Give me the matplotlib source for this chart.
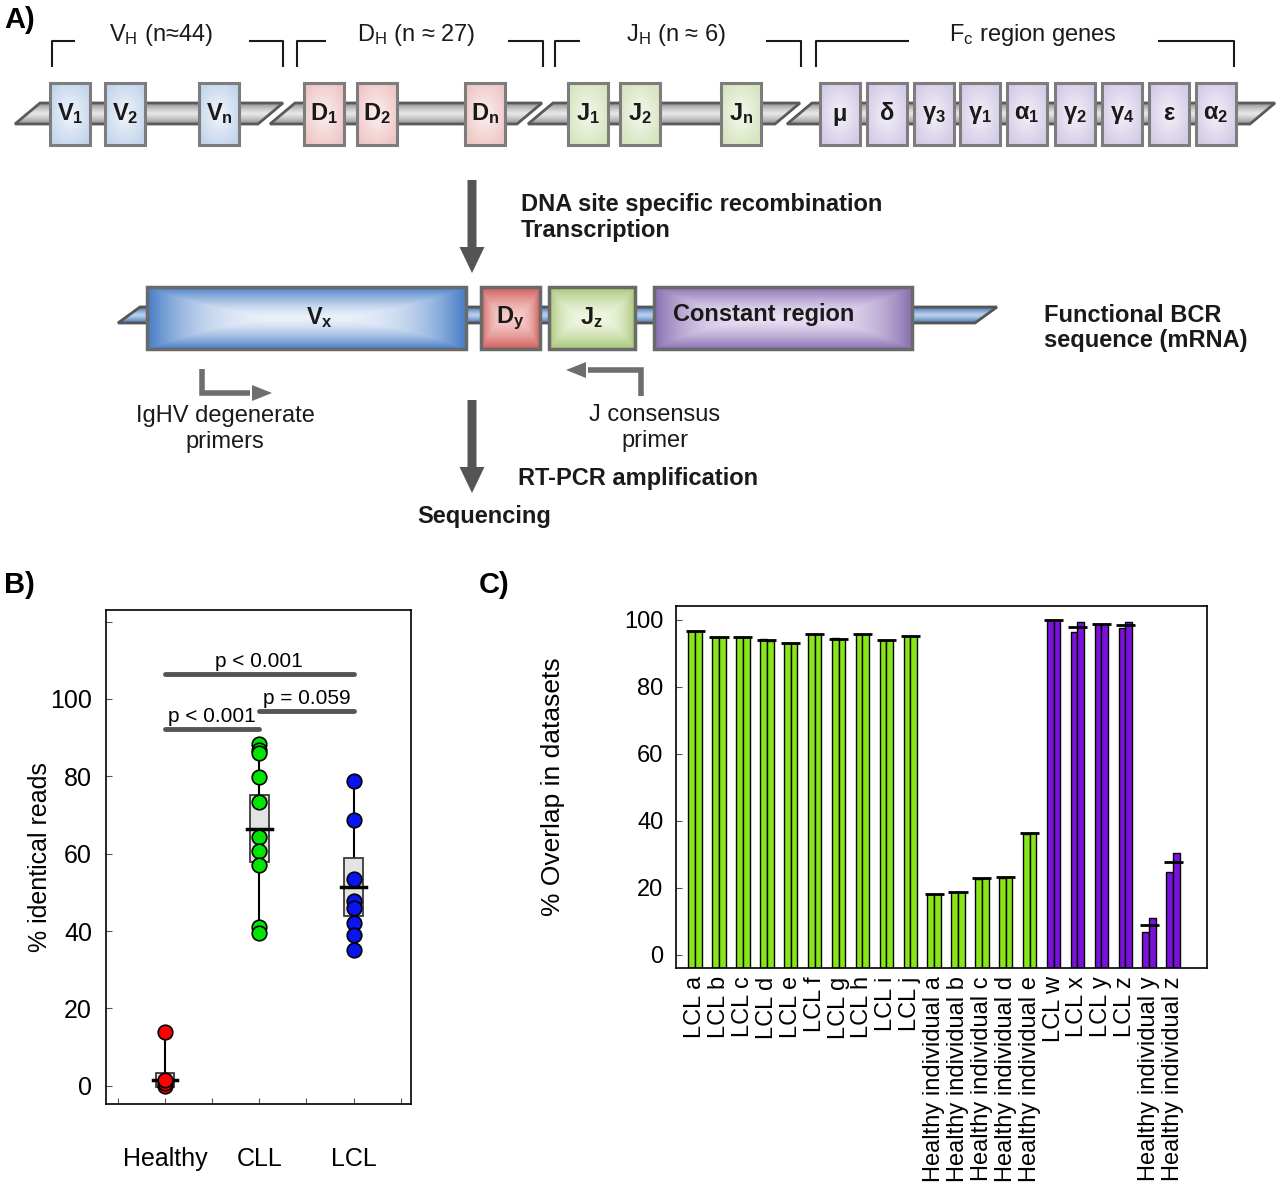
import numpy as np
import matplotlib
matplotlib.use("Agg")
import matplotlib.pyplot as plt
from matplotlib.patches import Rectangle, Polygon, FancyArrow
from matplotlib.colors import LinearSegmentedColormap

plt.rcParams['font.family'] = ['Liberation Sans', 'DejaVu Sans']
plt.rcParams['mathtext.fontset'] = 'custom'
plt.rcParams['mathtext.rm'] = 'Liberation Sans'
plt.rcParams['mathtext.bf'] = 'Liberation Sans:bold'
plt.rcParams['mathtext.it'] = 'Liberation Sans:italic'

# ---- panel B data: % identical reads ----
groups = ['Healthy', 'CLL', 'LCL']
healthy_reads = [0.0, 0.6, 1.4, 14.0]
cll_reads = [88.4, 86.9, 86.0, 79.8, 73.3, 64.3, 60.8, 57.2, 41.0, 39.5]
lcl_reads = [78.7, 68.6, 53.5, 47.7, 46.0, 42.1, 38.9, 35.2]
box_median = [1.4, 66.5, 51.3]
box_q1 = [-0.4, 57.8, 43.8]
box_q3 = [3.3, 75.3, 58.9]
point_colors = ['#ff0000', '#00e600', '#0a14f0']
p_pairs = [(1, 3), (1, 2), (2, 3)]
p_heights = [106.5, 92.3, 96.8]
p_labels = ['p < 0.001', 'p < 0.001', 'p = 0.059']

# ---- panel C data: % overlap in datasets (two replicates each) ----
samples = ['LCL a', 'LCL b', 'LCL c', 'LCL d', 'LCL e', 'LCL f', 'LCL g',
           'LCL h', 'LCL i', 'LCL j', 'Healthy individual a',
           'Healthy individual b', 'Healthy individual c',
           'Healthy individual d', 'Healthy individual e', 'LCL w', 'LCL x',
           'LCL y', 'LCL z', 'Healthy individual y', 'Healthy individual z']
overlap_rep1 = [96.5, 94.8, 94.7, 94.2, 93.2, 95.8, 94.4, 95.7, 93.8, 95.1,
                18.1, 18.7, 22.6, 22.9, 36.1, 100.0, 96.3, 98.8, 97.5, 6.8, 24.8]
overlap_rep2 = [96.5, 94.8, 94.7, 93.6, 93.2, 95.8, 94.2, 95.7, 93.8, 95.1,
                18.1, 18.7, 23.0, 23.2, 36.4, 100.0, 99.2, 98.8, 99.2, 11.0, 30.3]
sample_group = ['green'] * 15 + ['purple'] * 6
group_color = {'green': '#86e61a', 'purple': '#7a12dc'}

# ---- panel A gene names ----
v_names = ['V$_\\mathbf{1}$', 'V$_\\mathbf{2}$', 'V$_\\mathbf{n}$']
d_names = ['D$_\\mathbf{1}$', 'D$_\\mathbf{2}$', 'D$_\\mathbf{n}$']
j_names = ['J$_\\mathbf{1}$', 'J$_\\mathbf{2}$', 'J$_\\mathbf{n}$']
c_names = ['μ', 'δ', 'γ$_\\mathbf{3}$', 'γ$_\\mathbf{1}$', 'α$_\\mathbf{1}$',
           'γ$_\\mathbf{2}$', 'γ$_\\mathbf{4}$', 'ε', 'α$_\\mathbf{2}$']

fig = plt.figure(figsize=(12.8, 11.91), dpi=100)

# ================= panel A (schematic, pixel coordinates) =================
ax = fig.add_axes([0, 0, 1, 1])
ax.axis('off')


def grad_fill(x0, y0, w, h, c_out, c_in, kind='pyramid', z=3, clip=None):
    u = np.linspace(-1, 1, 80)
    X, Y = np.meshgrid(u, u)
    if kind == 'pyramid':
        d = np.maximum(np.abs(X) ** 3, np.abs(Y) ** 1.5)
    elif kind == 'radial':
        d = np.clip(np.sqrt(X ** 2 + Y ** 2) / 1.2, 0, 1)
    else:
        d = np.abs(Y) ** 1.3
    cmap = LinearSegmentedColormap.from_list('g', [c_in, c_out])
    im = ax.imshow(d, cmap=cmap, extent=(x0, x0 + w, y0 + h, y0), zorder=z,
                   aspect='auto', interpolation='bilinear', vmin=0, vmax=1)
    if clip is not None:
        im.set_clip_path(clip)
    return im


def gene_box(x0, y0, w, h, c_out, c_in, kind, ec='#7d7d7d', lw=2.2):
    grad_fill(x0, y0, w, h, c_out, c_in, kind, z=4)
    ax.add_patch(Rectangle((x0, y0), w, h, fill=False, ec=ec, lw=lw, zorder=5))


def strand(xb0, xb1, y_top, y_bot, slant, c_out, c_in, ec):
    pts = [(xb0, y_bot), (xb0 + slant, y_top), (xb1 + slant, y_top), (xb1, y_bot)]
    poly = Polygon(pts, closed=True, fc='none', ec=ec, lw=2, zorder=2.1)
    ax.add_patch(poly)
    grad_fill(xb0, y_top, xb1 + slant - xb0, y_bot - y_top, c_out, c_in,
              kind='vert', z=2, clip=poly)


# germline strands
for xb0, xb1 in [(15, 258), (270, 517), (528, 775), (787, 1250)]:
    strand(xb0, xb1, 103, 124, 25, '#8e8e8e', '#e6e6e6', '#5a5a5a')

# germline gene boxes
box_sets = [
    (v_names, [50, 105, 199], '#c3d5ec', '#f1f5fb'),
    (d_names, [304, 357, 465], '#efc6c6', '#fcf0f0'),
    (j_names, [568, 620, 721], '#d6e4bf', '#f4f8ec'),
    (c_names, [820, 867, 914, 960, 1007, 1055, 1102, 1149, 1196], '#d4cbe6', '#f3f0f9'),
]
for names, xs, c_out, c_in in box_sets:
    for name, x0 in zip(names, xs):
        gene_box(x0, 83, 40, 62, c_out, c_in, 'radial')
        ax.text(x0 + 20, 114, name, ha='center', va='center', fontsize=17,
                fontweight='bold', color='#1a1a1a', zorder=6)

# brackets above the germline segments
brackets = [(52, 75, 249, 283, 'V$_\\mathrm{H}$ (n≈44)', 161),
            (297, 326, 508, 543, 'D$_\\mathrm{H}$ (n ≈ 27)', 416),
            (555, 580, 766, 801, 'J$_\\mathrm{H}$ (n ≈ 6)', 676),
            (816, 909, 1158, 1234, 'F$_\\mathrm{c}$ region genes', 1033)]
for xl, xl2, xr2, xr, lab, xc in brackets:
    ax.plot([xl, xl, xl2], [67, 41, 41], color='#1a1a1a', lw=1.5, solid_capstyle='butt')
    ax.plot([xr2, xr, xr], [41, 41, 67], color='#1a1a1a', lw=1.5, solid_capstyle='butt')
    ax.text(xc, 35, lab, ha='center', va='center', fontsize=17, color='#1a1a1a')

ax.text(4, 20, 'A)', ha='left', va='center', fontsize=21, fontweight='bold')

# big arrows
for y0, y1 in [(180, 273), (400, 493)]:
    ax.add_patch(FancyArrow(472, y0, 0, y1 - y0, width=9, head_width=25,
                            head_length=26, length_includes_head=True,
                            fc='#555555', ec='none', zorder=3))

ax.text(521, 204, 'DNA site specific recombination', ha='left', va='center',
        fontsize=17, fontweight='bold', color='#1a1a1a')
ax.text(521, 230, 'Transcription', ha='left', va='center',
        fontsize=17, fontweight='bold', color='#1a1a1a')

# functional BCR transcript
strand(118, 975, 307, 323, 22, '#3f70ad', '#b8d0ec', '#555555')
gene_box(147, 287, 319, 62, '#4a7fc8', '#eaf1fa', 'pyramid', ec='#6a6a6a', lw=2.5)
gene_box(481, 287, 59, 62, '#d05f5c', '#f6cdca', 'pyramid', ec='#6a6a6a', lw=2.5)
gene_box(549, 287, 86, 62, '#a9c77a', '#f0f6e2', 'pyramid', ec='#6a6a6a', lw=2.5)
gene_box(654, 287, 258, 62, '#8a72b2', '#e9e0f4', 'pyramid', ec='#6a6a6a', lw=2.5)
for x, s in [(320, 'V$_\\mathbf{x}$'), (510, 'D$_\\mathbf{y}$'), (591, 'J$_\\mathbf{z}$')]:
    ax.text(x, 318, s, ha='center', va='center', fontsize=17, fontweight='bold',
            color='#1a1a1a', zorder=6)
ax.text(764, 315, 'Constant region', ha='center', va='center', fontsize=17,
        fontweight='bold', color='#1a1a1a', zorder=6)
ax.text(1044, 315, 'Functional BCR', ha='left', va='center', fontsize=17,
        fontweight='bold', color='#1a1a1a')
ax.text(1044, 341, 'sequence (mRNA)', ha='left', va='center', fontsize=17,
        fontweight='bold', color='#1a1a1a')

# primers
ax.plot([202, 202, 250], [369, 393, 393], color='#6e6e6e', lw=4,
        solid_joinstyle='miter', solid_capstyle='butt')
ax.add_patch(FancyArrow(246, 393, 26, 0, width=0.1, head_width=16,
                        head_length=20, length_includes_head=True,
                        fc='#6e6e6e', ec='none'))
ax.plot([641, 641, 588], [396, 370, 370], color='#6e6e6e', lw=4,
        solid_joinstyle='miter', solid_capstyle='butt')
ax.add_patch(FancyArrow(592, 370, -26, 0, width=0.1, head_width=16,
                        head_length=20, length_includes_head=True,
                        fc='#6e6e6e', ec='none'))
ax.text(225, 416, 'IgHV degenerate', ha='center', va='center', fontsize=17, color='#1a1a1a')
ax.text(225, 442, 'primers', ha='center', va='center', fontsize=17, color='#1a1a1a')
ax.text(655, 415, 'J consensus', ha='center', va='center', fontsize=17, color='#1a1a1a')
ax.text(655, 441, 'primer', ha='center', va='center', fontsize=17, color='#1a1a1a')
ax.text(518, 478, 'RT-PCR amplification', ha='left', va='center', fontsize=17,
        fontweight='bold', color='#1a1a1a')
ax.text(484, 516, 'Sequencing', ha='center', va='center', fontsize=17,
        fontweight='bold', color='#1a1a1a')

ax.text(4, 585, 'B)', ha='left', va='center', fontsize=21, fontweight='bold')
ax.text(479, 585, 'C)', ha='left', va='center', fontsize=21, fontweight='bold')

ax.set_xlim(0, 1280)
ax.set_ylim(1191, 0)

# ================= panel B =================
axb = fig.add_axes([106 / 1280, 1 - 1104 / 1191, 305 / 1280, 494 / 1191])
reads = [healthy_reads, cll_reads, lcl_reads]
xpos = np.arange(1, len(groups) + 1)
for i, vals in enumerate(reads):
    x = xpos[i]
    axb.plot([x, x], [min(vals), max(vals)], color='black', lw=1.5, zorder=2)
    axb.add_patch(Rectangle((x - 0.1, box_q1[i]), 0.2, box_q3[i] - box_q1[i],
                            fc='#e3e3e3', ec='#3a3a3a', lw=1.3, zorder=3))
    axb.plot([x - 0.13, x + 0.13], [box_median[i]] * 2, color='black', lw=2.5, zorder=4)
    axb.scatter([x] * len(vals), vals, s=110, c=point_colors[i], edgecolors='black',
                linewidths=1.2, zorder=5)

for (a, b), h, lab in zip(p_pairs, p_heights, p_labels):
    axb.plot([a, b], [h, h], color='#555555', lw=3.5, solid_capstyle='round', zorder=3)
    axb.text((a + b) / 2, h + 0.8, lab, ha='center', va='bottom', fontsize=15)

axb.set_xlim(0.374, 3.61)
axb.set_ylim(-4.7, 123)
axb.set_xticks(xpos)
axb.set_xticklabels(groups, fontsize=18)
axb.set_xticks([0.5, 1.5, 2.5, 3.5], minor=True)
axb.set_yticks(np.arange(0, 121, 20))
axb.set_yticklabels(['0', '20', '40', '60', '80', '100', ''], fontsize=18)
axb.tick_params(axis='both', which='both', direction='in', length=4, width=0.8, color='#555555')
axb.tick_params(axis='x', pad=31)
axb.tick_params(axis='y', pad=10)
axb.set_ylabel('% identical reads', fontsize=18)
axb.yaxis.set_label_coords(-0.177, 0.5)
for sp in axb.spines.values():
    sp.set_linewidth(1.2)

# ================= panel C =================
axc = fig.add_axes([676 / 1280, 1 - 968 / 1191, 531 / 1280, 362 / 1191])
ylo = -4.0
xs = np.arange(len(samples))
bw = 0.28
cols = [group_color[g] for g in sample_group]
r1 = np.array(overlap_rep1)
r2 = np.array(overlap_rep2)
axc.bar(xs - bw / 2, r1 - ylo, bottom=ylo, width=bw, color=cols, edgecolor='black', linewidth=1.0, zorder=2)
axc.bar(xs + bw / 2, r2 - ylo, bottom=ylo, width=bw, color=cols, edgecolor='black', linewidth=1.0, zorder=2)
axc.hlines((r1 + r2) / 2, xs - 0.4, xs + 0.4, color='black', lw=2, zorder=3)

axc.set_xlim(-0.8, 21.42)
axc.set_ylim(ylo, 104.1)
axc.set_xticks(xs)
axc.set_xticklabels(samples, rotation=90, fontsize=17, va='top', ha='center')
axc.set_yticks(np.arange(0, 101, 20))
axc.tick_params(axis='y', labelsize=17, direction='in', length=4, width=0.8, pad=9, color='#555555')
axc.tick_params(axis='x', length=0, pad=6)
axc.set_ylabel('% Overlap in datasets', fontsize=19)
axc.yaxis.set_label_coords(-0.209, 0.5)
for sp in axc.spines.values():
    sp.set_linewidth(1.2)

fig.savefig('out.png', dpi=100)
